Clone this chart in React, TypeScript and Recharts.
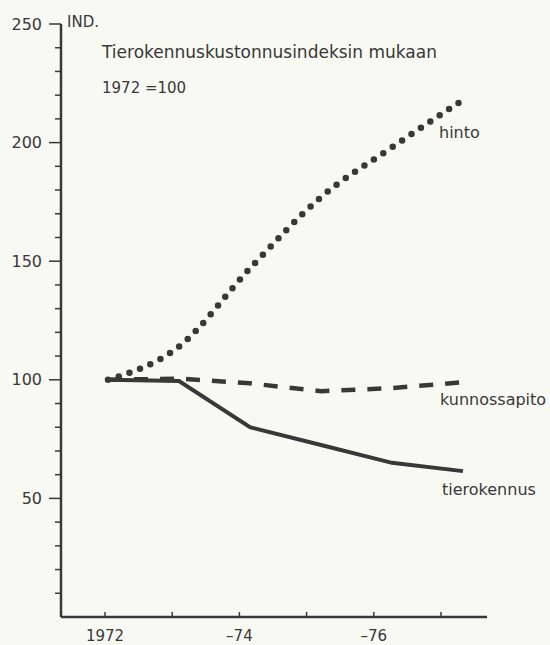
import { LineChart, Line, XAxis, YAxis } from 'recharts';

const years = [1972, 1973, 1974, 1975, 1976, 1977];
const hinto = [100, 114, 147, 177, 198, 218];
const kunnossapito = [100, 100.5, 98.5, 95.2, 96.5, 99];
const tierokennus = [100, 99.5, 80, 72.5, 65, 61.5];
const yearLabels = ['1972', '', '–74', '', '–76', ''];
const yTicks = [0, 10, 20, 30, 40, 50, 60, 70, 80, 90, 100, 110, 120, 130, 140, 150, 160, 170, 180, 190, 200, 210, 220, 230, 240, 250];
const yLabelled = [50, 100, 150, 200, 250];

const data = years.map((year, i) => ({
  year,
  hinto: hinto[i],
  kunnossapito: kunnossapito[i],
  tierokennus: tierokennus[i],
}));

const ink = '#383838';
const font = '"DejaVu Sans", sans-serif';

// ticks point up into the plot, label sits below
const XTick = ({ x, y, payload }: any) => {
  const i = years.indexOf(payload.value);
  return (
    <g>
      <line x1={x} x2={x} y1={y} y2={y - 5} stroke={ink} strokeWidth={1.5} />
      <text x={x} y={y + 19} dy="0.35em" textAnchor="middle" fill={ink} fontSize={15} fontFamily={font}>
        {yearLabels[i]}
      </text>
    </g>
  );
};

const YTick = ({ x, y, payload }: any) => {
  const major = yLabelled.includes(payload.value);
  if (payload.value === 0) return null;
  return (
    <g>
      <line x1={x - (major ? 12 : 6)} x2={x} y1={y} y2={y} stroke={ink} strokeWidth={1.5} />
      {major && (
        <text x={x - 19} y={y} dy="0.35em" textAnchor="end" fill={ink} fontSize={16} fontFamily={font}>
          {payload.value}
        </text>
      )}
    </g>
  );
};

const Notes = () => (
  <svg width={550} height={645} style={{ position: 'absolute', left: 0, top: 0, pointerEvents: 'none' }}>
    <g fill={ink} fontFamily={font} dominantBaseline="central">
      <text x={67} y={22} fontSize={15}>IND.</text>
      <text x={102} y={52} fontSize={17}>Tierokennuskustonnusindeksin mukaan</text>
      <text x={102} y={88} fontSize={15}>1972 =100</text>
      <text x={439} y={132} fontSize={16}>hinto</text>
      <text x={440} y={399} fontSize={16}>kunnossapito</text>
      <text x={442} y={489} fontSize={16}>tierokennus</text>
    </g>
  </svg>
);

export default function App() {
  return (
    <div style={{ position: 'absolute', left: 0, top: 0, width: 550, height: 645, background: '#f9f9f4' }}>
      <LineChart width={550} height={645} data={data} margin={{ top: 24, right: 63, bottom: 0, left: 0 }}>
        <XAxis
          xAxisId="ticks"
          dataKey="year"
          type="number"
          domain={[1971.345, 1977.685]}
          ticks={years}
          allowDataOverflow
          height={28}
          stroke={ink}
          strokeWidth={2.5}
          tickLine={false}
          tickSize={0}
          tickMargin={0}
          tick={<XTick />}
          interval={0}
        />
        <XAxis xAxisId="data" dataKey="year" type="number" domain={[1971.338, 1977.338]} allowDataOverflow height={0} hide />
        <YAxis
          type="number"
          domain={[0, 250]}
          ticks={yTicks}
          width={61}
          stroke={ink}
          strokeWidth={2.5}
          tickLine={false}
          tickSize={0}
          tickMargin={0}
          tick={<YTick />}
          interval={0}
        />
        <Line
          xAxisId="data"
          dataKey="hinto"
          type="monotone"
          stroke={ink}
          strokeWidth={6.5}
          strokeDasharray="0 11.3"
          strokeLinecap="round"
          dot={false}
          isAnimationActive={false}
        />
        <Line
          xAxisId="data"
          dataKey="kunnossapito"
          type="linear"
          stroke={ink}
          strokeWidth={4.5}
          strokeDasharray="14 12"
          dot={false}
          isAnimationActive={false}
        />
        <Line
          xAxisId="data"
          dataKey="tierokennus"
          type="linear"
          stroke={ink}
          strokeWidth={4}
          dot={false}
          isAnimationActive={false}
        />
      </LineChart>
      <Notes />
    </div>
  );
}
